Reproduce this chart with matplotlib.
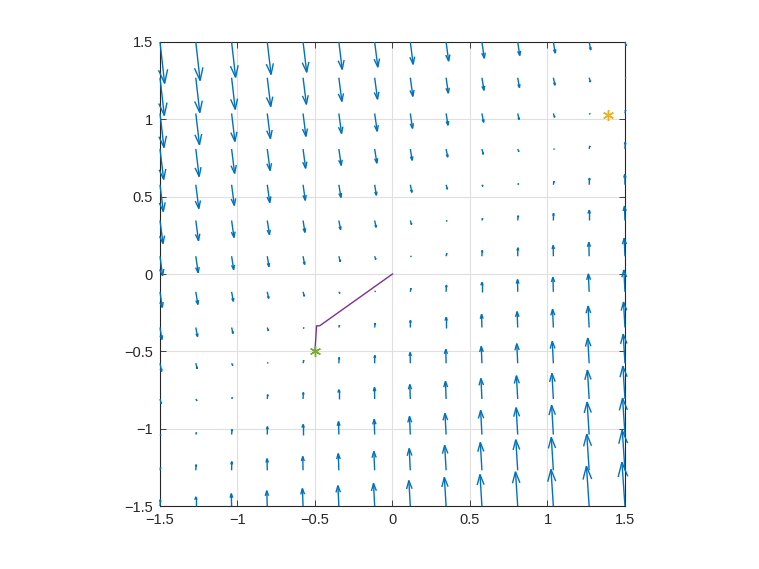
#!/usr/bin/env python3
import numpy as np
import matplotlib
matplotlib.use('Agg')
import matplotlib.pyplot as plt
from matplotlib.collections import LineCollection

# grid of the vector field (14 x 14)
xs = [-1.5, -1.269, -1.038, -0.808, -0.577, -0.346, -0.115,
      0.115, 0.346, 0.577, 0.808, 1.038, 1.269, 1.5]
ys = [-1.5, -1.269, -1.038, -0.808, -0.577, -0.346, -0.115,
      0.115, 0.346, 0.577, 0.808, 1.038, 1.269, 1.5]

# field components, one row per y (bottom to top)
u_rows = [
    [0.02, 0.00, -0.02, -0.03, -0.04, -0.06, -0.07, -0.09, -0.11, -0.12, -0.14, -0.15, -0.17, -0.19],
    [0.04, 0.02, 0.01, -0.01, -0.02, -0.04, -0.05, -0.07, -0.09, -0.10, -0.12, -0.13, -0.15, -0.17],
    [0.06, 0.04, 0.03, 0.01, 0.00, -0.02, -0.03, -0.05, -0.07, -0.08, -0.10, -0.11, -0.13, -0.15],
    [0.08, 0.07, 0.05, 0.03, 0.02, 0.00, -0.01, -0.03, -0.04, -0.06, -0.08, -0.09, -0.11, -0.13],
    [0.10, 0.09, 0.07, 0.05, 0.04, 0.02, 0.01, -0.01, -0.02, -0.04, -0.06, -0.07, -0.09, -0.11],
    [0.12, 0.11, 0.09, 0.07, 0.06, 0.04, 0.03, 0.01, -0.00, -0.02, -0.04, -0.05, -0.07, -0.09],
    [0.14, 0.13, 0.11, 0.09, 0.08, 0.06, 0.05, 0.04, 0.02, 0.00, -0.01, -0.03, -0.05, -0.07],
    [0.16, 0.15, 0.13, 0.11, 0.10, 0.09, 0.07, 0.06, 0.04, 0.02, 0.01, -0.01, -0.02, -0.05],
    [0.19, 0.17, 0.15, 0.14, 0.12, 0.11, 0.09, 0.08, 0.06, 0.04, 0.03, 0.01, -0.00, -0.03],
    [0.21, 0.19, 0.17, 0.16, 0.14, 0.13, 0.11, 0.10, 0.08, 0.06, 0.05, 0.04, 0.02, -0.01],
    [0.23, 0.21, 0.19, 0.18, 0.16, 0.15, 0.14, 0.12, 0.10, 0.09, 0.07, 0.06, 0.04, 0.02],
    [0.25, 0.23, 0.21, 0.20, 0.18, 0.17, 0.16, 0.14, 0.12, 0.11, 0.09, 0.08, 0.06, 0.04],
    [0.27, 0.25, 0.23, 0.22, 0.21, 0.19, 0.18, 0.16, 0.14, 0.13, 0.11, 0.10, 0.08, 0.06],
    [0.29, 0.27, 0.25, 0.24, 0.23, 0.21, 0.20, 0.18, 0.16, 0.15, 0.13, 0.12, 0.10, 0.08],
]
v_rows = [
    [0.40, 0.58, 0.78, 0.96, 1.10, 1.28, 1.42, 1.60, 1.80, 1.98, 2.15, 2.30, 2.50, 2.75],
    [0.17, 0.35, 0.55, 0.73, 0.87, 1.05, 1.19, 1.37, 1.57, 1.75, 1.92, 2.07, 2.27, 2.52],
    [-0.06, 0.12, 0.32, 0.50, 0.64, 0.82, 0.96, 1.14, 1.34, 1.52, 1.69, 1.84, 2.04, 2.29],
    [-0.29, -0.11, 0.09, 0.27, 0.41, 0.59, 0.73, 0.91, 1.11, 1.29, 1.46, 1.61, 1.81, 2.06],
    [-0.52, -0.34, -0.14, 0.04, 0.18, 0.36, 0.50, 0.68, 0.88, 1.06, 1.23, 1.38, 1.58, 1.83],
    [-0.75, -0.57, -0.37, -0.19, -0.05, 0.13, 0.27, 0.45, 0.65, 0.83, 1.00, 1.15, 1.35, 1.60],
    [-0.98, -0.80, -0.60, -0.42, -0.28, -0.10, 0.04, 0.22, 0.42, 0.60, 0.77, 0.92, 1.12, 1.37],
    [-1.22, -1.04, -0.84, -0.66, -0.52, -0.34, -0.20, -0.02, 0.18, 0.36, 0.53, 0.68, 0.88, 1.13],
    [-1.45, -1.27, -1.07, -0.89, -0.75, -0.57, -0.43, -0.25, -0.05, 0.13, 0.30, 0.45, 0.65, 0.90],
    [-1.68, -1.50, -1.30, -1.12, -0.98, -0.80, -0.66, -0.48, -0.28, -0.10, 0.07, 0.22, 0.42, 0.67],
    [-1.91, -1.73, -1.53, -1.35, -1.21, -1.03, -0.89, -0.71, -0.51, -0.33, -0.16, -0.01, 0.19, 0.44],
    [-2.14, -1.96, -1.76, -1.58, -1.44, -1.26, -1.12, -0.94, -0.74, -0.56, -0.39, -0.24, -0.04, 0.21],
    [-2.37, -2.19, -1.99, -1.81, -1.67, -1.49, -1.35, -1.17, -0.97, -0.79, -0.62, -0.47, -0.27, -0.02],
    [-2.60, -2.42, -2.22, -2.04, -1.90, -1.72, -1.58, -1.40, -1.20, -1.02, -0.85, -0.70, -0.50, -0.25],
]

# descent path and the two marked points
path_x = [0.0, -0.47, -0.49, -0.5]
path_y = [0.0, -0.335, -0.335, -0.5]
start_pt = (1.39, 1.03)
end_pt = (-0.5, -0.5)

ticks = [-1.5, -1, -0.5, 0, 0.5, 1, 1.5]
tick_labels = ['\u22121.5', '\u22121', '\u22120.5', '0', '0.5', '1', '1.5']

plt.rcParams['font.family'] = ['Liberation Sans', 'DejaVu Sans']

fig = plt.figure(figsize=(7.59, 5.69), dpi=100)
ax = fig.add_axes([0.2108, 0.1107, 0.6126, 0.8155])

# matlab-style quiver: shaft plus two head strokes
X, Y = np.meshgrid(xs, ys)
U = np.array(u_rows) * 0.103
V = np.array(v_rows) * 0.103
X, Y, U, V = X.ravel(), Y.ravel(), U.ravel(), V.ravel()
alpha, beta = 0.33, 0.33
segs = []
for x, y, u, v in zip(X, Y, U, V):
    tx, ty = x + u, y + v
    segs.append([(x, y), (tx, ty)])
    segs.append([(tx - alpha * (u + beta * v), ty - alpha * (v - beta * u)),
                 (tx, ty),
                 (tx - alpha * (u - beta * v), ty - alpha * (v + beta * u))])
ax.add_collection(LineCollection(segs, colors='#0072BD', linewidths=1.0,
                                 capstyle='butt', joinstyle='miter',
                                 zorder=3, clip_on=False))

ax.plot(path_x, path_y, color='#7E2F8E', lw=1.0, zorder=4)
ax.plot(*start_pt, marker=(6, 2, 0), color='#EDB120', ms=8, mew=1.0,
        ls='none', zorder=5)
ax.plot(*end_pt, marker=(6, 2, 0), color='#77AC30', ms=8, mew=1.0,
        ls='none', zorder=5)

ax.set_xlim(-1.5, 1.5)
ax.set_ylim(-1.5, 1.5)
ax.set_xticks(ticks)
ax.set_xticklabels(tick_labels)
ax.set_yticks(ticks)
ax.set_yticklabels(tick_labels)
ax.tick_params(direction='in', length=4, width=0.6, top=True, right=True,
               labelsize=10.5, colors='#262626', pad=5)
ax.grid(True, color='#DFDFDF', lw=0.8)
ax.set_axisbelow(True)
for sp in ax.spines.values():
    sp.set_color('#262626')
    sp.set_linewidth(0.8)

fig.savefig('out.png', dpi=100)
plt.close(fig)
